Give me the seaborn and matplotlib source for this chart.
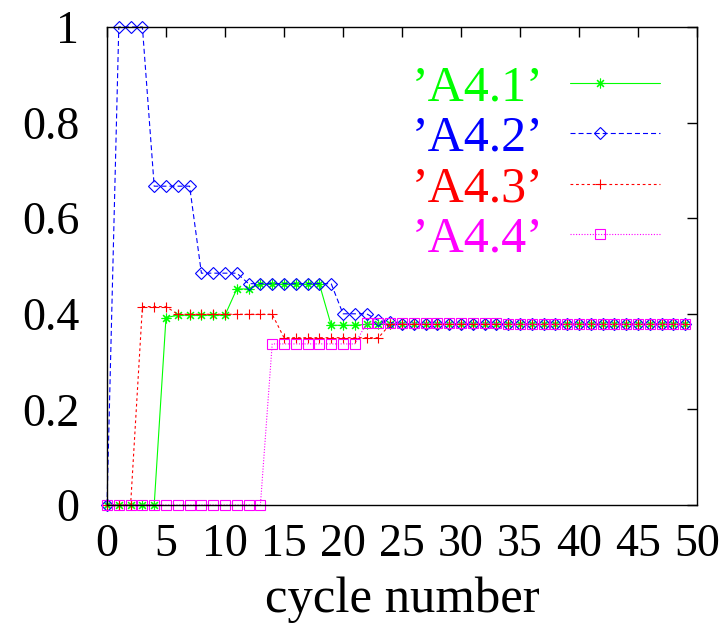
import numpy as np
import pandas as pd
import matplotlib
matplotlib.use("Agg")
import matplotlib.pyplot as plt
from matplotlib.lines import Line2D
from matplotlib.legend_handler import HandlerLine2DCompound
import seaborn as sns

# ---- data ----
cycles = list(range(50))
a41 = [0, 0, 0, 0, 0, 0.392, 0.397, 0.397, 0.397, 0.397, 0.397, 0.452, 0.452,
       0.462, 0.462, 0.462, 0.462, 0.462, 0.462, 0.376, 0.376, 0.376] + [0.378] * 28
a42 = [0, 1, 1, 1, 0.667, 0.667, 0.667, 0.667, 0.485, 0.485, 0.485, 0.485,
       0.463, 0.463, 0.463, 0.463, 0.463, 0.463, 0.463, 0.463, 0.40, 0.40, 0.40,
       0.386, 0.382] + [0.378] * 25
a43 = [0, 0, 0, 0.415, 0.415, 0.415, 0.399, 0.399, 0.399, 0.399, 0.399, 0.399,
       0.399, 0.399, 0.399, 0.35, 0.35, 0.35, 0.35, 0.35, 0.35, 0.35, 0.35, 0.35] + [0.378] * 26
a44 = [0] * 14 + [0.337] * 8 + [0.38] * 12 + [0.378] * 16
series_names = ["’A4.1’", "’A4.2’", "’A4.3’", "’A4.4’"]
xticks = [0, 5, 10, 15, 20, 25, 30, 35, 40, 45, 50]
yticks = [0, 0.2, 0.4, 0.6, 0.8, 1]
ytick_labels = ["0", "0.2", "0.4", "0.6", "0.8", "1"]

sns.set_theme(style="white")
plt.rcParams["font.family"] = ["Liberation Serif", "DejaVu Serif"]
plt.rcParams["lines.scale_dashes"] = False

fig = plt.figure(figsize=(7.26, 6.33), dpi=100)
ax = fig.add_axes([107 / 726, 1 - 505 / 633, 590 / 726, 478 / 633])

styles = [
    dict(color="#00ff00", marker=(8, 2, 0), ms=7, linestyle="-"),
    dict(color="#0000ff", marker="D", ms=6, linestyle=(0, (3.6, 2.2))),
    dict(color="#ff0000", marker="+", ms=7, linestyle=(0, (2.0, 2.0))),
    dict(color="#ff00ff", marker="s", ms=6.5, linestyle=(0, (0.8, 1.2))),
]
for name, vals, st in zip(series_names, [a41, a42, a43, a44], styles):
    sns.lineplot(x=cycles, y=vals, ax=ax, label=name, color=st["color"],
                 marker=st["marker"], markersize=st["ms"], markerfacecolor="none",
                 markeredgecolor=st["color"], markeredgewidth=0.8,
                 linestyle=st["linestyle"], linewidth=0.8, clip_on=False)

ax.set_xlim(0, 50)
ax.set_ylim(0, 1)
ax.set_xticks(xticks)
ax.set_xticklabels([str(t) for t in xticks])
ax.set_yticks(yticks)
ax.set_yticklabels(ytick_labels)
ax.tick_params(axis="both", direction="in", length=7, width=1, color="black",
               top=True, right=True, labelsize=33, labelcolor="black")
ax.tick_params(axis="x", pad=13)
ax.tick_params(axis="y", pad=20)
for sp in ax.spines.values():
    sp.set_color("black")
    sp.set_linewidth(1)
ax.set_xlabel("cycle number", fontsize=36.5, labelpad=8, color="black")
ax.set_ylabel("")
ax.grid(False)


class MarkerLeftHandler(HandlerLine2DCompound):
    def get_xdata(self, legend, xdescent, ydescent, width, height, fontsize):
        xdata = [-xdescent, -xdescent + width]
        return xdata, [-xdescent + 0.33 * width]


leg = ax.legend(loc="upper right", bbox_to_anchor=(0.937, 0.921), frameon=False,
                fontsize=36, markerfirst=False, handlelength=1.8, handletextpad=0.52,
                labelspacing=0.08, borderpad=0, borderaxespad=0, labelcolor="linecolor",
                numpoints=1, handler_map={Line2D: MarkerLeftHandler(numpoints=1)})

fig.savefig("out.png", dpi=100, facecolor="white")
